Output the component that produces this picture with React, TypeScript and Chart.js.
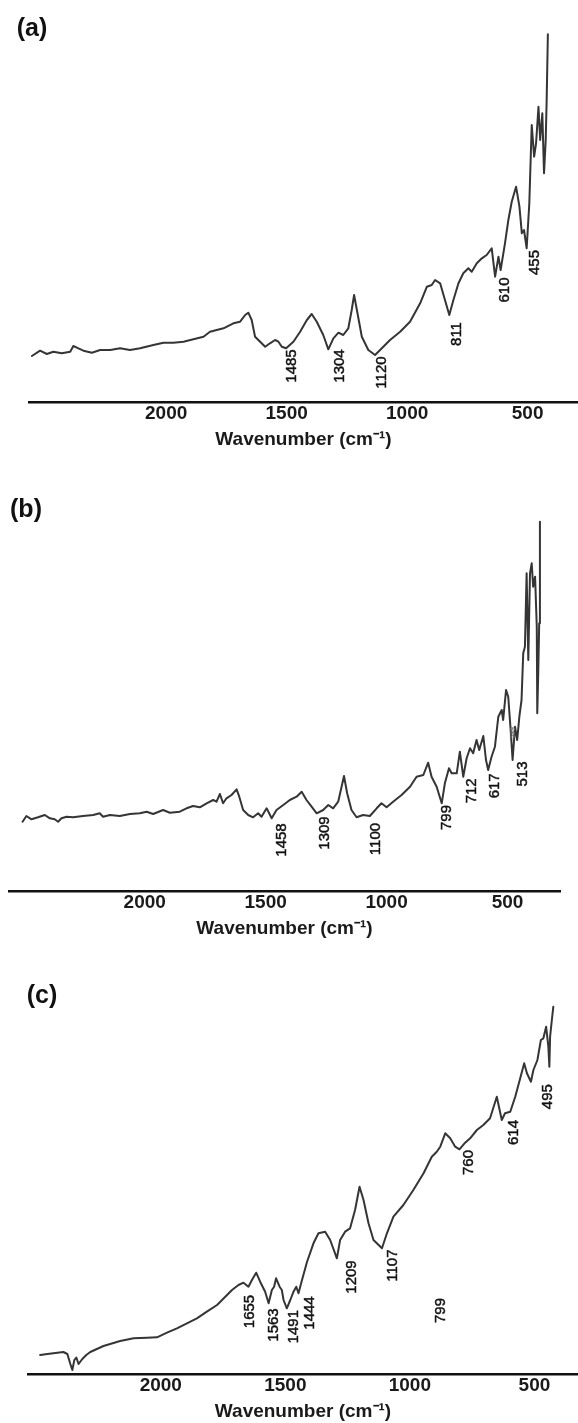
import { useEffect, useRef } from "react";
import { Chart, registerables } from "chart.js";

Chart.register(...registerables);

// ---------- shared axis text ----------
const tickValues = [2000, 1500, 1000, 500];
const tickLabels = ["2000", "1500", "1000", "500"];
const axisTitle = "Wavenumber (cm\u207B\u00B9)";
const panelNames = ["(a)", "(b)", "(c)"];

// ---------- panel (a) ----------
const waveA = [2557, 2523, 2495, 2468, 2433, 2398, 2385, 2364, 2343, 2308, 2274, 2232, 2191, 2150, 2108, 2053, 2011, 1970, 1928, 1887, 1845, 1818, 1790, 1762, 1721, 1693, 1672, 1659, 1645, 1631, 1610, 1589, 1569, 1548, 1534, 1520, 1502, 1472, 1444, 1416, 1396, 1375, 1348, 1327, 1306, 1285, 1265, 1244, 1230, 1220, 1206, 1188, 1161, 1133, 1105, 1071, 1029, 988, 946, 918, 898, 884, 863, 843, 825, 808, 787, 767, 746, 732, 711, 690, 670, 649, 635, 621, 612, 594, 580, 566, 548, 534, 524, 515, 504, 493, 483, 473, 465, 455, 448, 439, 432, 425, 421, 416];
const signalA = [46, 51.3, 48, 50.3, 48.7, 50.3, 56, 53.7, 51.3, 49.3, 52, 52, 53.7, 52, 53.7, 57, 59.3, 59.3, 60.3, 62.7, 65.3, 70.3, 72, 73.7, 78.7, 80.3, 87, 89.3, 82, 65.3, 60.3, 55.3, 58.7, 62, 60.3, 55.3, 53.7, 60.3, 70.3, 82, 88, 80.3, 67, 52.7, 63.7, 69.3, 67, 73.7, 92, 107, 88.7, 65.3, 52, 47, 53.7, 62, 70.3, 80.3, 98.7, 115.3, 117, 122, 118.7, 102, 87, 102, 118.7, 128.7, 133.7, 130.3, 138.7, 143.7, 147, 153.7, 125.3, 145.3, 132, 158.7, 182, 200.3, 215.3, 195.3, 168.7, 172, 153.7, 198.7, 277, 245.3, 258.7, 295.3, 262, 288.7, 228.7, 262, 302, 367.7];
const peakTextA = ["1485", "1304", "1120", "811", "610", "455"];
const peakWaveA = [1479, 1278, 1105, 794, 594, 469];
const peakHeightA = [36, 36, 29.5, 68, 112, 139.5];

// ---------- panel (b) ----------
const waveB = [2505, 2489, 2468, 2441, 2413, 2392, 2372, 2358, 2344, 2323, 2296, 2255, 2213, 2186, 2172, 2144, 2103, 2061, 2020, 1992, 1965, 1924, 1896, 1855, 1827, 1800, 1772, 1744, 1717, 1703, 1689, 1676, 1662, 1641, 1620, 1609, 1593, 1572, 1552, 1531, 1517, 1496, 1475, 1455, 1427, 1400, 1372, 1351, 1331, 1310, 1289, 1262, 1241, 1221, 1200, 1186, 1176, 1163, 1145, 1124, 1097, 1069, 1041, 1021, 1000, 973, 938, 903, 876, 848, 828, 814, 793, 772, 759, 742, 731, 710, 697, 683, 669, 655, 642, 628, 617, 600, 589, 580, 566, 552, 538, 524, 518, 506, 497, 487, 479, 469, 460, 451, 442, 435, 428, 421, 414, 407, 400, 394, 386, 379, 377, 373, 369, 366];
const signalB = [69.3, 75, 71.7, 73.7, 76, 72.7, 71.7, 69.3, 72.7, 74.3, 73.7, 75, 76, 77.7, 74.3, 76, 75, 77, 77.7, 79.3, 77, 81, 78.3, 79.3, 82.7, 85, 83.7, 87.7, 91, 89.3, 97, 87.7, 92.7, 96, 101.7, 94.3, 81, 76, 73.7, 77.7, 74.3, 82.7, 72.7, 81, 86, 91, 94.3, 99.3, 91, 84.3, 77.7, 81, 86, 82.7, 89.3, 104.3, 115, 97.7, 81, 73.7, 76, 75, 82.7, 87.7, 83.7, 89.3, 96, 104.3, 114.3, 116, 128.3, 114.3, 104.3, 87.7, 107.7, 122.7, 117.7, 117.7, 139.3, 114.3, 132.7, 142.7, 137.7, 151, 141, 155, 131, 121, 134.3, 144.3, 174.3, 181, 171, 201, 194.3, 161, 131, 164.3, 151, 174.3, 191, 237.7, 244.3, 317.7, 231, 317.7, 327.7, 304.3, 314.3, 264.3, 177.7, 217.7, 267.7, 369.3];
const peakTextB = ["1458", "1309", "1100", "799", "712", "617", "513"];
const peakWaveB = [1433, 1257, 1044, 750, 649, 554, 437];
const peakHeightB = [51, 58, 52, 73.5, 100.2, 105.2, 117];
const smallTextB = ["599"];
const smallWaveB = [475];
const smallHeightB = [158];

// ---------- panel (c) ----------
const waveC = [2484, 2455, 2423, 2391, 2375, 2363, 2355, 2347, 2339, 2330, 2315, 2299, 2283, 2230, 2163, 2109, 2055, 2015, 1975, 1935, 1895, 1855, 1815, 1774, 1741, 1714, 1688, 1668, 1648, 1634, 1617, 1601, 1581, 1567, 1554, 1545, 1537, 1523, 1514, 1507, 1494, 1480, 1467, 1456, 1447, 1433, 1413, 1387, 1367, 1340, 1320, 1293, 1280, 1260, 1240, 1220, 1202, 1186, 1166, 1146, 1112, 1092, 1066, 1026, 986, 945, 912, 892, 878, 858, 838, 818, 801, 778, 758, 731, 705, 678, 651, 631, 618, 597, 577, 557, 541, 530, 514, 504, 488, 474, 464, 453, 444, 440, 437, 430, 424];
const signalC = [19, 20, 21, 22, 20, 10, 4, 14, 16.5, 10, 15, 19, 22, 28, 33, 35.7, 36.2, 36.7, 41.3, 45.7, 50.7, 55.7, 62.3, 69, 77.3, 84, 89, 91.3, 87.3, 94, 101.3, 92.3, 82.3, 70.7, 84, 87.3, 95.7, 87.3, 84, 74, 65.7, 74, 82.3, 87.3, 80.7, 94, 112, 130.7, 140.7, 142.3, 134, 115.7, 134, 142.3, 145.7, 164, 187.3, 174, 150.7, 134, 125.7, 140.7, 157.3, 169, 184, 200.7, 217.3, 222.3, 227.3, 240.7, 235.7, 227.3, 224.7, 231.3, 235.7, 244, 249, 255.7, 277.3, 254, 260.7, 262.3, 277.3, 295.7, 310.7, 300.7, 292.3, 304, 314, 334, 335.7, 347.3, 327.3, 307.3, 337.3, 354, 367.3];
const peakTextC = ["1655", "1563", "1491", "1444", "1209", "1107", "799", "760", "614", "495"];
const peakWaveC = [1641, 1547, 1467, 1400, 1232, 1069, 876, 765, 584, 444];
const peakHeightC = [62.5, 49, 47.3, 61, 97, 108.4, 63.5, 211.5, 241.5, 277.3];

// ---------- layout (not data) ----------
const FONT = '"Liberation Sans", Arial, Helvetica, sans-serif';
const W = 578;

type Panel = {
  name: string;
  top: number;
  height: number;
  padTop: number;
  padLeft: number;
  padRight: number;
  xMin: number;
  xMax: number;
  yMax: number;
  labelX: number;
  labelY: number;
  wave: number[];
  signal: number[];
  peakText: string[];
  peakWave: number[];
  peakHeight: number[];
  smallText: string[];
  smallWave: number[];
  smallHeight: number[];
};

const panels: Panel[] = [
  {
    name: panelNames[0], top: 0, height: 450, padTop: 20, padLeft: 29, padRight: 0,
    xMin: 291, xMax: 2569, yMax: 382, labelX: 32, labelY: 29,
    wave: waveA, signal: signalA, peakText: peakTextA, peakWave: peakWaveA, peakHeight: peakHeightA,
    smallText: [], smallWave: [], smallHeight: [],
  },
  {
    name: panelNames[1], top: 460, height: 479, padTop: 35, padLeft: 9, padRight: 18,
    xMin: 283, xMax: 2561, yMax: 396, labelX: 26, labelY: 50,
    wave: waveB, signal: signalB, peakText: peakTextB, peakWave: peakWaveB, peakHeight: peakHeightB,
    smallText: smallTextB, smallWave: smallWaveB, smallHeight: smallHeightB,
  },
  {
    name: panelNames[2], top: 945, height: 477, padTop: 45, padLeft: 28, padRight: 0,
    xMin: 325, xMax: 2533, yMax: 384, labelX: 42, labelY: 51,
    wave: waveC, signal: signalC, peakText: peakTextC, peakWave: peakWaveC, peakHeight: peakHeightC,
    smallText: [], smallWave: [], smallHeight: [],
  },
];

function makeTextPlugin(p: Panel) {
  return {
    id: "peakText",
    afterDatasetsDraw(chart: any) {
      const { ctx } = chart;
      const xs = chart.scales.x;
      const ys = chart.scales.y;
      const drawRotated = (t: string, px: number, py: number) => {
        ctx.save();
        ctx.translate(px, py);
        ctx.rotate(-Math.PI / 2);
        ctx.strokeText(t, 0, 0);
        ctx.fillText(t, 0, 0);
        ctx.restore();
      };
      ctx.save();
      ctx.textAlign = "center";
      ctx.textBaseline = "middle";
      ctx.fillStyle = "#111";
      ctx.strokeStyle = "#111";
      ctx.lineWidth = 0.45;
      ctx.font = `15px ${FONT}`;
      p.peakText.forEach((t, i) => {
        drawRotated(t, xs.getPixelForValue(p.peakWave[i]), ys.getPixelForValue(p.peakHeight[i]));
      });
      ctx.font = `7px ${FONT}`;
      ctx.fillStyle = "#666";
      ctx.strokeStyle = "#666";
      ctx.lineWidth = 0.2;
      p.smallText.forEach((t, i) => {
        drawRotated(t, xs.getPixelForValue(p.smallWave[i]), ys.getPixelForValue(p.smallHeight[i]));
      });
      ctx.fillStyle = "#111";
      ctx.font = `bold 25px ${FONT}`;
      ctx.fillText(p.name, p.labelX, p.labelY);
      ctx.restore();
    },
  };
}

function SpectrumPanel({ p }: { p: Panel }) {
  const ref = useRef<HTMLCanvasElement | null>(null);
  useEffect(() => {
    if (!ref.current) return;
    const chart = new Chart(ref.current, {
      type: "line",
      data: {
        datasets: [
          {
            data: p.wave.map((w, i) => ({ x: w, y: p.signal[i] })),
            borderColor: "#353535",
            borderWidth: 2,
            borderJoinStyle: "round",
            borderCapStyle: "round",
            pointRadius: 0,
            tension: 0,
            fill: false,
            clip: false as any,
          },
        ],
      },
      options: {
        animation: false,
        responsive: false,
        devicePixelRatio: 1,
        layout: {
          padding: { top: p.padTop, left: p.padLeft, right: p.padRight, bottom: 0.5 },
        },
        plugins: {
          legend: { display: false },
          tooltip: { enabled: false },
          title: { display: false },
        },
        scales: {
          x: {
            type: "linear",
            reverse: true,
            min: p.xMin,
            max: p.xMax,
            afterBuildTicks: (scale: any) => {
              scale.ticks = tickValues.map((v) => ({ value: v }));
            },
            grid: { display: false, drawTicks: false },
            border: { display: true, color: "#111", width: 2.5 },
            ticks: {
              color: "#1a1a1a",
              padding: 2.5,
              maxRotation: 0,
              autoSkip: false,
              font: { family: FONT, size: 19, weight: "bold", lineHeight: 1 },
              callback: (v: any) => {
                const k = tickValues.indexOf(Number(v));
                return k >= 0 ? tickLabels[k] : "";
              },
            },
            title: {
              display: true,
              text: axisTitle,
              color: "#1a1a1a",
              padding: { top: 4.5, bottom: 0 },
              font: { family: FONT, size: 19, weight: "bold", lineHeight: 1 },
            },
          },
          y: {
            type: "linear",
            display: false,
            min: 0,
            max: p.yMax,
          },
        },
      },
      plugins: [makeTextPlugin(p)],
    } as any);
    return () => chart.destroy();
  }, [p]);
  return (
    <canvas
      ref={ref}
      width={W}
      height={p.height}
      style={{ position: "absolute", left: 0, top: p.top, width: W, height: p.height }}
    />
  );
}

export default function App() {
  return (
    <div
      style={{
        position: "absolute",
        left: 0,
        top: 0,
        width: W,
        height: 1423,
        background: "#fff",
        overflow: "hidden",
      }}
    >
      {panels.map((p) => (
        <SpectrumPanel key={p.name} p={p} />
      ))}
    </div>
  );
}
